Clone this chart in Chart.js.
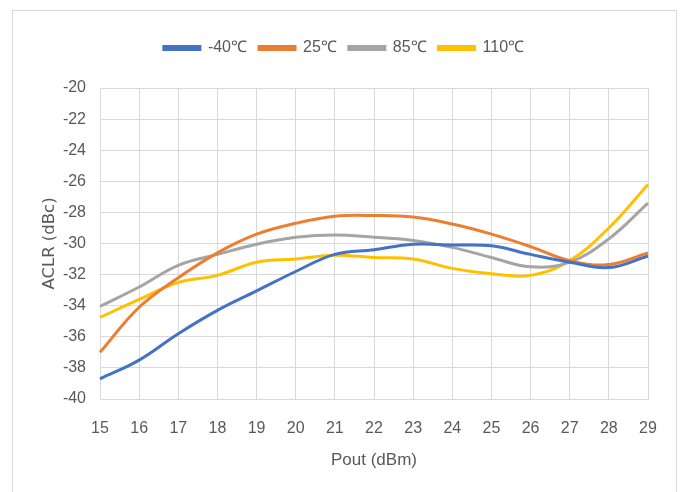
<!DOCTYPE html>
<html>
<head>
<meta charset="utf-8">
<script src="https://cdn.jsdelivr.net/npm/chart.js@4"></script>
<style>
  html, body { margin: 0; padding: 0; background: #fff; }
  #wrap { position: relative; width: 681px; height: 492px; }
  #frame { position: absolute; left: 12px; top: 10px; width: 665px; height: 500px; border: 1px solid #d9d9d9; box-sizing: border-box; }
  canvas { position: absolute; left: 0; top: 0; }
</style>
</head>
<body>
<div id="wrap">
  <div id="frame"></div>
  <canvas id="myChart" width="681" height="492"></canvas>
</div>
<script>
// dados
const pout = ['15','16','17','18','19','20','21','22','23','24','25','26','27','28','29']

const aclr_m40 = [-38.7, -37.5, -35.8, -34.3, -33.05, -31.8, -30.7, -30.4, -30.05, -30.1, -30.15, -30.7, -31.2, -31.55, -30.8]
const aclr_25  = [-37.0, -34.1, -32.2, -30.6, -29.4, -28.7, -28.25, -28.2, -28.3, -28.75, -29.4, -30.2, -31.1, -31.35, -30.6]
const aclr_85  = [-34.05, -32.8, -31.4, -30.7, -30.05, -29.6, -29.45, -29.6, -29.8, -30.25, -30.9, -31.5, -31.2, -29.7, -27.4]
const aclr_110 = [-34.75, -33.6, -32.5, -32.05, -31.2, -31.0, -30.75, -30.9, -31.0, -31.6, -31.95, -32.05, -31.1, -29.0, -26.2]

const nomes = ['-40℃', '25℃', '85℃', '110℃']
const cores = ['#4472C4', '#ED7D31', '#A5A5A5', '#FFC000']

const fonte = "'Liberation Sans', sans-serif"

const series = [aclr_m40, aclr_25, aclr_85, aclr_110]

const ctx = document.getElementById('myChart')

// espaço extra abaixo da legenda
const legendaExtra = {
  id: 'legendaExtra',
  beforeInit(chart) {
    const fitOrig = chart.legend.fit
    chart.legend.fit = function() {
      fitOrig.call(this)
      this.height += 22
    }
  }
}

const data = {
  labels: pout,
  datasets: series.map((s, i) => ({
    label: nomes[i],
    data: s,
    borderColor: cores[i],
    backgroundColor: cores[i],
    borderWidth: 3,
    pointRadius: 0,
    tension: 0.4,
    fill: false
  }))
}

const config = {
  type: 'line',
  data: data,
  options: {
    responsive: false,
    animation: false,
    layout: { padding: { left: 40, right: 33, top: 28, bottom: 21 } },
    plugins: {
      legend: {
        position: 'top',
        labels: {
          boxWidth: 36,
          boxHeight: 3,
          padding: 12,
          color: '#595959',
          font: { family: fonte, size: 16 }
        }
      },
      tooltip: { enabled: false }
    },
    scales: {
      x: {
        offset: false,
        grid: { color: '#d9d9d9', lineWidth: 1, drawTicks: false },
        border: { color: '#d9d9d9' },
        ticks: { color: '#595959', padding: 20, maxRotation: 0, font: { family: fonte, size: 16 } },
        title: { display: true, text: 'Pout (dBm)', color: '#595959', padding: { top: 0, bottom: 0 }, font: { family: fonte, size: 17 } },
        afterFit: function(scale) { scale.height = 72 }
      },
      y: {
        min: -40,
        max: -20,
        ticks: { stepSize: 2, color: '#595959', padding: 14, font: { family: fonte, size: 16 } },
        grid: { color: '#d9d9d9', lineWidth: 1, drawTicks: false },
        border: { color: '#d9d9d9' },
        title: { display: true, text: 'ACLR (dBc)', color: '#595959', padding: { top: 0, bottom: 0 }, font: { family: "'DejaVu Sans', sans-serif", size: 16.5 } },
        afterFit: function(scale) { scale.width = 60 }
      }
    }
  },
  plugins: [legendaExtra]
}

const myChart = new Chart(ctx, config)
</script>
</body>
</html>
